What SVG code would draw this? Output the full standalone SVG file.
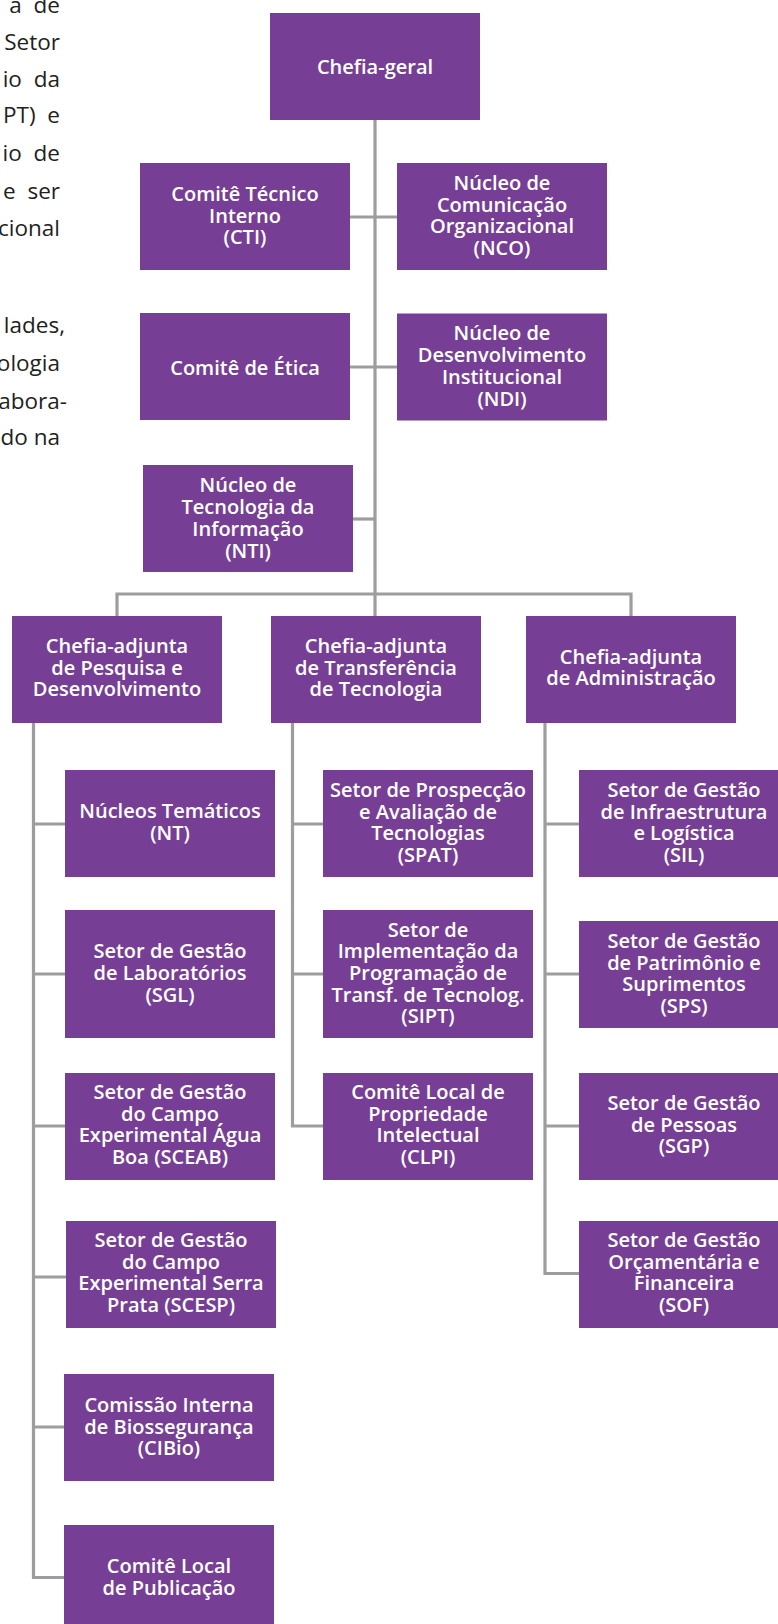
<svg xmlns="http://www.w3.org/2000/svg" width="778" height="1624" viewBox="0 0 778 1624">
<style>
.box{fill:#763f95}
.lbl{font-family:"Open Sans","Liberation Sans",sans-serif;font-weight:600;font-size:20px;fill:#ffffff;text-anchor:middle}
.body{font-family:"Open Sans","Liberation Sans",sans-serif;font-weight:400;font-size:22.5px;fill:#231f20;text-anchor:end}
.just{word-spacing:6px}
.con{fill:none;stroke:#9d9d9f;stroke-width:3.2}
</style>
<rect width="778" height="1624" fill="#ffffff"/>
<g id="bodytext">
<text class="body just" x="60" y="13">a de</text>
<text class="body" x="60" y="50">Setor</text>
<text class="body just" x="60" y="87">io da</text>
<text class="body just" x="60" y="123">PT) e</text>
<text class="body just" x="60" y="161">io de</text>
<text class="body just" x="60" y="199">e ser</text>
<text class="body" x="60" y="236">cional</text>
<text class="body" x="65" y="333">lades,</text>
<text class="body" x="60" y="371">ologia</text>
<text class="body" x="67" y="409">abora-</text>
<text class="body" x="60" y="445">do na</text>
</g>
<g id="connectors">
<path class="con" d="M375 120 V616"/>
<path class="con" d="M350 217 H397"/>
<path class="con" d="M350 367 H397"/>
<path class="con" d="M353 519 H375"/>
<path class="con" d="M117 616 V594 H631 V616"/>
<path class="con" d="M33.5 723 V1577.5 H64"/>
<path class="con" d="M33.5 824 H65 M33.5 974 H65 M33.5 1126 H65 M33.5 1277 H66 M33.5 1427 H64"/>
<path class="con" d="M292.5 723 V1126 H323"/>
<path class="con" d="M292.5 824 H323 M292.5 974 H323"/>
<path class="con" d="M545 723 V1273.5 H579"/>
<path class="con" d="M545 824 H579 M545 974 H579 M545 1126 H579"/>
</g>
<g id="chefia-geral"><rect class="box" x="270" y="13" width="210" height="107"/><text class="lbl" x="375" y="73.5">Chefia-geral</text></g>
<g id="cti"><rect class="box" x="140" y="163" width="210" height="107"/><text class="lbl"><tspan x="245" y="200.8">Comitê Técnico</tspan><tspan x="245" y="222.5">Interno</tspan><tspan x="245" y="244.2">(CTI)</tspan></text></g>
<g id="nco"><rect class="box" x="397" y="163" width="210" height="107"/><text class="lbl"><tspan x="502" y="189.9">Núcleo de</tspan><tspan x="502" y="211.6">Comunicação</tspan><tspan x="502" y="233.4">Organizacional</tspan><tspan x="502" y="255.1">(NCO)</tspan></text></g>
<g id="etica"><rect class="box" x="140" y="313" width="210" height="107"/><text class="lbl" x="245" y="375">Comitê de Ética</text></g>
<g id="ndi"><rect class="box" x="397" y="313.5" width="210" height="107"/><text class="lbl"><tspan x="502" y="340.4">Núcleo de</tspan><tspan x="502" y="362.1">Desenvolvimento</tspan><tspan x="502" y="383.9">Institucional</tspan><tspan x="502" y="405.6">(NDI)</tspan></text></g>
<g id="nti"><rect class="box" x="143" y="465" width="210" height="107"/><text class="lbl"><tspan x="248" y="492.4">Núcleo de</tspan><tspan x="248" y="514.1">Tecnologia da</tspan><tspan x="248" y="535.9">Informação</tspan><tspan x="248" y="557.6">(NTI)</tspan></text></g>
<g id="ca-pd"><rect class="box" x="12" y="616" width="210" height="107"/><text class="lbl"><tspan x="117" y="653">Chefia-adjunta</tspan><tspan x="117" y="674.7">de Pesquisa e</tspan><tspan x="117" y="696.4">Desenvolvimento</tspan></text></g>
<g id="ca-tt"><rect class="box" x="271" y="616" width="210" height="107"/><text class="lbl"><tspan x="376" y="653">Chefia-adjunta</tspan><tspan x="376" y="674.7">de Transferência</tspan><tspan x="376" y="696.4">de Tecnologia</tspan></text></g>
<g id="ca-adm"><rect class="box" x="526" y="616" width="210" height="107"/><text class="lbl"><tspan x="631" y="663.6">Chefia-adjunta</tspan><tspan x="631" y="685.3">de Administração</tspan></text></g>
<g id="nt"><rect class="box" x="65" y="770" width="210" height="107"/><text class="lbl"><tspan x="170" y="818.4">Núcleos Temáticos</tspan><tspan x="170" y="840.1">(NT)</tspan></text></g>
<g id="sgl"><rect class="box" x="65" y="910" width="210" height="128"/><text class="lbl"><tspan x="170" y="958.3">Setor de Gestão</tspan><tspan x="170" y="980">de Laboratórios</tspan><tspan x="170" y="1001.7">(SGL)</tspan></text></g>
<g id="sceab"><rect class="box" x="65" y="1073" width="210" height="107"/><text class="lbl"><tspan x="170" y="1099">Setor de Gestão</tspan><tspan x="170" y="1120.7">do Campo</tspan><tspan x="170" y="1142.4">Experimental Água</tspan><tspan x="170" y="1164.1">Boa (SCEAB)</tspan></text></g>
<g id="scesp"><rect class="box" x="66" y="1221" width="210" height="107"/><text class="lbl"><tspan x="171" y="1247">Setor de Gestão</tspan><tspan x="171" y="1268.7">do Campo</tspan><tspan x="171" y="1290.4">Experimental Serra</tspan><tspan x="171" y="1312.1">Prata (SCESP)</tspan></text></g>
<g id="cibio"><rect class="box" x="64" y="1374" width="210" height="107"/><text class="lbl"><tspan x="169" y="1411.8">Comissão Interna</tspan><tspan x="169" y="1433.5">de Biossegurança</tspan><tspan x="169" y="1455.2">(CIBio)</tspan></text></g>
<g id="clp"><rect class="box" x="64" y="1525" width="210" height="107"/><text class="lbl"><tspan x="169" y="1573.2">Comitê Local</tspan><tspan x="169" y="1594.9">de Publicação</tspan></text></g>
<g id="spat"><rect class="box" x="323" y="770" width="210" height="107"/><text class="lbl"><tspan x="428" y="797">Setor de Prospecção</tspan><tspan x="428" y="818.7">e Avaliação de</tspan><tspan x="428" y="840.4">Tecnologias</tspan><tspan x="428" y="862.1">(SPAT)</tspan></text></g>
<g id="sipt"><rect class="box" x="323" y="910" width="210" height="128"/><text class="lbl"><tspan x="428" y="936.6">Setor de</tspan><tspan x="428" y="958.3">Implementação da</tspan><tspan x="428" y="980">Programação de</tspan><tspan x="428" y="1001.7">Transf. de Tecnolog.</tspan><tspan x="428" y="1023.4">(SIPT)</tspan></text></g>
<g id="clpi"><rect class="box" x="323" y="1073" width="210" height="107"/><text class="lbl"><tspan x="428" y="1099">Comitê Local de</tspan><tspan x="428" y="1120.7">Propriedade</tspan><tspan x="428" y="1142.4">Intelectual</tspan><tspan x="428" y="1164.1">(CLPI)</tspan></text></g>
<g id="sil"><rect class="box" x="579" y="770" width="210" height="107"/><text class="lbl"><tspan x="684" y="797">Setor de Gestão</tspan><tspan x="684" y="818.7">de Infraestrutura</tspan><tspan x="684" y="840.4">e Logística</tspan><tspan x="684" y="862.1">(SIL)</tspan></text></g>
<g id="sps"><rect class="box" x="579" y="921" width="210" height="107"/><text class="lbl"><tspan x="684" y="947.9">Setor de Gestão</tspan><tspan x="684" y="969.6">de Patrimônio e</tspan><tspan x="684" y="991.4">Suprimentos</tspan><tspan x="684" y="1013.1">(SPS)</tspan></text></g>
<g id="sgp"><rect class="box" x="579" y="1073" width="210" height="107"/><text class="lbl"><tspan x="684" y="1110">Setor de Gestão</tspan><tspan x="684" y="1131.7">de Pessoas</tspan><tspan x="684" y="1153.4">(SGP)</tspan></text></g>
<g id="sof"><rect class="box" x="579" y="1221" width="210" height="107"/><text class="lbl"><tspan x="684" y="1247">Setor de Gestão</tspan><tspan x="684" y="1268.7">Orçamentária e</tspan><tspan x="684" y="1290.4">Financeira</tspan><tspan x="684" y="1312.1">(SOF)</tspan></text></g>
</svg>
